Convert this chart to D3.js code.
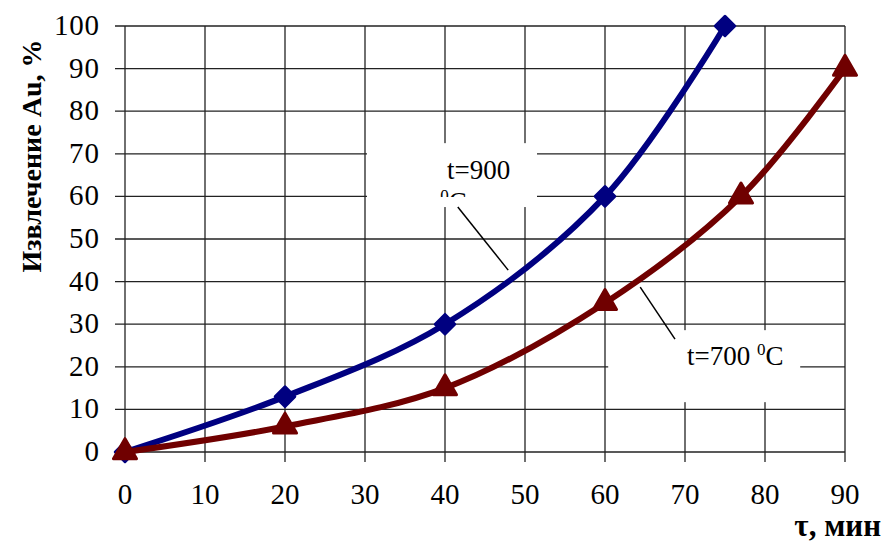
<!DOCTYPE html>
<html>
<head>
<meta charset="utf-8">
<script src="https://cdn.jsdelivr.net/npm/d3@7"></script>
<style>
body { margin: 0; background: #fff; }
</style>
</head>
<body>
<div class="featured"></div>
<script>
// data
var xTicks = [0, 10, 20, 30, 40, 50, 60, 70, 80, 90];
var yTicks = [0, 10, 20, 30, 40, 50, 60, 70, 80, 90, 100];
var t900 = [{x: 0, y: 0}, {x: 20, y: 13}, {x: 40, y: 30}, {x: 60, y: 60}, {x: 75, y: 100}];
var t700 = [{x: 0, y: 0}, {x: 20, y: 6}, {x: 40, y: 15}, {x: 60, y: 35}, {x: 77, y: 60}, {x: 90, y: 90}];
var yTitle = "Извлечение Au, %";
var xTitle = "τ, мин";

var width = 882, height = 542;
var svg = d3.select(".featured").append("svg").attr("width", width).attr("height", height)
	.style("font-family", "'Liberation Serif', 'Times New Roman', 'DejaVu Serif', serif");

var x = d3.scaleLinear().domain([0, 90]).range([125, 845]);
var y = d3.scaleLinear().domain([0, 100]).range([452, 26]);

// grid
var grid = svg.append("g").attr("stroke", "#222").attr("stroke-width", 1.3);
grid.selectAll(".v").data(xTicks).enter().append("line")
	.attr("x1", function(d) { return x(d); }).attr("x2", function(d) { return x(d); })
	.attr("y1", y(100)).attr("y2", y(0) + 10);
grid.selectAll(".h").data(yTicks).enter().append("line")
	.attr("y1", function(d) { return y(d); }).attr("y2", function(d) { return y(d); })
	.attr("x1", x(0) - 10).attr("x2", x(90));

// tick labels
svg.selectAll(".yl").data(yTicks).enter().append("text")
	.attr("x", 99).attr("y", function(d) { return y(d) + 9; })
	.attr("text-anchor", "end").attr("font-size", 29).attr("textLength", function(d) { return String(d).length * 15; })
	.text(function(d) { return d; });
svg.selectAll(".xl").data(xTicks).enter().append("text")
	.attr("x", function(d) { return x(d); }).attr("y", 504)
	.attr("text-anchor", "middle").attr("font-size", 29).text(function(d) { return d; });

// axis titles
svg.append("text").attr("transform", "translate(41,156) rotate(-90)")
	.attr("text-anchor", "middle").attr("font-size", 28).attr("font-weight", "bold").text(yTitle);
svg.append("text").attr("x", 881).attr("y", 536)
	.attr("text-anchor", "end").attr("font-size", 31).attr("font-weight", "bold").text(xTitle);

// label boxes (white, hide grid)
var boxes = [{x0: 30.25, x1: 51.5, y0: 72.5, y1: 57.5}, {x0: 60.4, x1: 84.4, y0: 28.6, y1: 11.7}];
svg.selectAll(".box").data(boxes).enter().append("rect")
	.attr("x", function(d) { return x(d.x0); }).attr("y", function(d) { return y(d.y0); })
	.attr("width", function(d) { return x(d.x1) - x(d.x0); })
	.attr("height", function(d) { return y(d.y1) - y(d.y0); })
	.attr("fill", "#fff");

// leader lines
var leaders = [{x1: 41.6, y1: 57.5, x2: 47.9, y2: 42.7}, {x1: 64.4, y1: 38.7, x2: 68.75, y2: 26.5}];
svg.selectAll(".lead").data(leaders).enter().append("line")
	.attr("x1", function(d) { return x(d.x1); }).attr("y1", function(d) { return y(d.y1); })
	.attr("x2", function(d) { return x(d.x2); }).attr("y2", function(d) { return y(d.y2); })
	.attr("stroke", "#000").attr("stroke-width", 1.5);

// label texts
svg.append("defs").append("clipPath").attr("id", "clip900").append("rect")
	.attr("x", x(30)).attr("y", y(73)).attr("width", x(52) - x(30)).attr("height", 197 - y(73));
var lab9 = svg.append("g").attr("clip-path", "url(#clip900)");
lab9.append("text").attr("x", x(40.25)).attr("y", y(64)).attr("font-size", 27).text("t=900");
var c9 = lab9.append("text").attr("x", x(39.4)).attr("y", 211).attr("font-size", 27);
c9.append("tspan").attr("font-size", 17).attr("dy", -10).text("0");
c9.append("tspan").attr("dy", 10).text("C");

var c7 = svg.append("text").attr("x", x(70.25)).attr("y", y(20.4)).attr("font-size", 27);
c7.append("tspan").text("t=700 ");
c7.append("tspan").attr("font-size", 17).attr("dy", -10).text("0");
c7.append("tspan").attr("dy", 10).text("C");

// series
var line = d3.line().x(function(d) { return x(d.x); }).y(function(d) { return y(d.y); })
	.curve(d3.curveCatmullRom.alpha(0.5));

function drawSeries(data, color, shape) {
	svg.append("path").attr("d", line(data)).attr("stroke", color).attr("stroke-width", 6)
		.attr("fill", "none").attr("stroke-linejoin", "round");
	svg.selectAll(null).data(data).enter().append("path")
		.attr("d", d3.symbol().type(shape).size(shape === d3.symbolTriangle ? 230 : 190))
		.attr("transform", function(d) {
			return "translate(" + x(d.x) + "," + y(d.y) + ")"
				+ (shape === d3.symbolSquare ? " rotate(45)" : "");
		})
		.attr("fill", color).attr("stroke", color).attr("stroke-width", 3).attr("stroke-linejoin", "round");
}
drawSeries(t900, "#000080", d3.symbolSquare);
drawSeries(t700, "#700000", d3.symbolTriangle);
</script>
</body>
</html>
